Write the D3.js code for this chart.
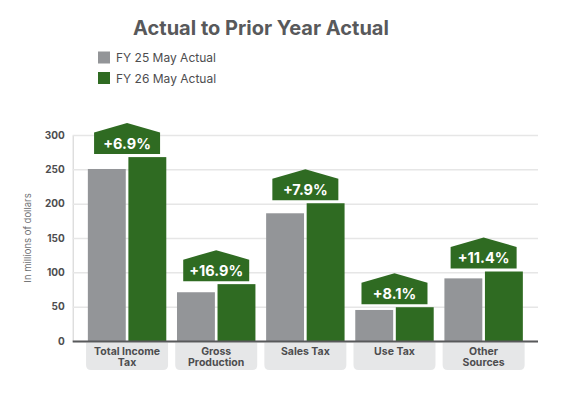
<!DOCTYPE html>
<html>
<head>
<meta charset="utf-8">
<script src="https://cdn.jsdelivr.net/npm/d3@7"></script>
<style>
  body { margin: 0; background: #fff; }
  svg text { font-family: Inter, "Noto Sans", sans-serif; }
</style>
</head>
<body>
<div id="chart"></div>
<script>
var categories = [["Total Income", "Tax"], ["Gross", "Production"], ["Sales Tax"], ["Use Tax"], ["Other", "Sources"]];
var series = ["FY 25 May Actual", "FY 26 May Actual"];
var fy25 = [250.5, 71, 186, 45.2, 91.2];
var fy26 = [267.8, 82.8, 200.6, 49.2, 101.2];
var changes = ["+6.9%", "+16.9%", "+7.9%", "+8.1%", "+11.4%"];
var yTicks = [0, 50, 100, 150, 200, 250, 300];

var width = 570, height = 400
var colors = ["#939598", "#2f6b22"]
var plotL = 72.7, plotR = 538, plotT = 135, plotB = 341

var svg = d3.select("#chart")
            .append("svg")
            .attr("width", width)
            .attr("height", height)

var rows = categories.map((c, i) => ({name: c, vals: [fy25[i], fy26[i]], change: changes[i]}))

var x0 = d3.scaleBand()
            .domain(d3.range(categories.length))
            .range([plotL, plotR])
            .paddingInner(0.12)
            .paddingOuter(0.17)
var x1 = d3.scaleBand()
            .domain([0, 1])
            .range([0, x0.bandwidth()])
            .paddingInner(0.065)
var y = d3.scaleLinear().domain([0, 300]).range([plotB, plotT])

// title + legend
svg.append("text")
    .attr("x", 261).attr("y", 35)
    .attr("text-anchor", "middle")
    .attr("font-size", 20).attr("font-weight", 700)
    .attr("fill", "#58595b")
    .text("Actual to Prior Year Actual")

var leg = svg.selectAll(".leg").data(series).enter().append("g")
    .attr("transform", (d, i) => "translate(98," + (51.5 + i * 20.5) + ")")
leg.append("rect").attr("width", 12).attr("height", 12).attr("fill", (d, i) => colors[i])
leg.append("text").attr("x", 18).attr("y", 10.8)
    .attr("font-size", 12).attr("fill", "#4d4d4f").text(d => d)

// grid + y axis
var yAxis = d3.axisLeft(y).tickValues(yTicks).tickSize(-(plotR - plotL)).tickPadding(8)
var ga = svg.append("g").attr("transform", "translate(" + plotL + ",0)").call(yAxis)
ga.select(".domain").attr("stroke", "#cfcfcf")
ga.selectAll(".tick line").attr("stroke", "#e6e6e6").attr("stroke-width", 1.5)
ga.selectAll(".tick text").attr("font-size", 10).attr("font-weight", 700)
    .attr("fill", "#4d4d4f").attr("font-family", "Inter, sans-serif")

svg.append("text")
    .attr("transform", "translate(31," + ((plotT + plotB) / 2) + ") rotate(-90)")
    .attr("text-anchor", "middle")
    .attr("font-size", 9.5).attr("fill", "#6d6e71")
    .text("In millions of dollars")

// bars
var groups = svg.selectAll(".grp").data(rows).enter().append("g")
    .attr("transform", (d, i) => "translate(" + x0(i) + ",0)")

groups.selectAll("rect").data(d => d.vals).enter().append("rect")
    .attr("x", (d, i) => x1(i))
    .attr("y", d => y(d))
    .attr("width", x1.bandwidth())
    .attr("height", d => y(0) - y(d))
    .attr("fill", (d, i) => colors[i])

// baseline
svg.append("line")
    .attr("x1", plotL).attr("x2", plotR)
    .attr("y1", plotB + 0.5).attr("y2", plotB + 0.5)
    .attr("stroke", "#58595b").attr("stroke-width", 2)

// change badges
var bw = 66, sideH = 21.5, peak = 9.5
groups.append("path")
    .attr("fill", colors[1])
    .attr("d", d => {
        var cx = x0.bandwidth() / 2, b = y(d.vals[1]) - 3, t = b - sideH
        return "M" + (cx - bw / 2) + "," + b + "L" + (cx + bw / 2) + "," + b +
            "L" + (cx + bw / 2) + "," + t + "L" + cx + "," + (t - peak) +
            "L" + (cx - bw / 2) + "," + t + "Z"
    })
groups.append("text")
    .attr("x", x0.bandwidth() / 2)
    .attr("y", d => y(d.vals[1]) - 8.5)
    .attr("text-anchor", "middle")
    .attr("font-size", 14.5).attr("font-weight", 700).attr("fill", "#fff")
    .text(d => d.change)

// category label boxes
var lw = 82, lh = 29, r = 5
groups.append("path")
    .attr("fill", "#e6e7e8")
    .attr("d", () => {
        var cx = x0.bandwidth() / 2, l = cx - lw / 2, t = plotB + 1.5, b = plotB + lh
        return "M" + l + "," + t + "L" + (l + lw) + "," + t + "L" + (l + lw) + "," + (b - r) +
            "Q" + (l + lw) + "," + b + " " + (l + lw - r) + "," + b +
            "L" + (l + r) + "," + b + "Q" + l + "," + b + " " + l + "," + (b - r) + "Z"
    })
groups.append("text")
    .attr("text-anchor", "middle")
    .attr("font-size", 10.5).attr("font-weight", 700).attr("fill", "#4d4d4f")
    .selectAll("tspan").data(d => d.name).enter().append("tspan")
    .attr("x", x0.bandwidth() / 2)
    .attr("y", (d, i) => plotB + 14 + i * 11)
    .text(d => d)
</script>
</body>
</html>
